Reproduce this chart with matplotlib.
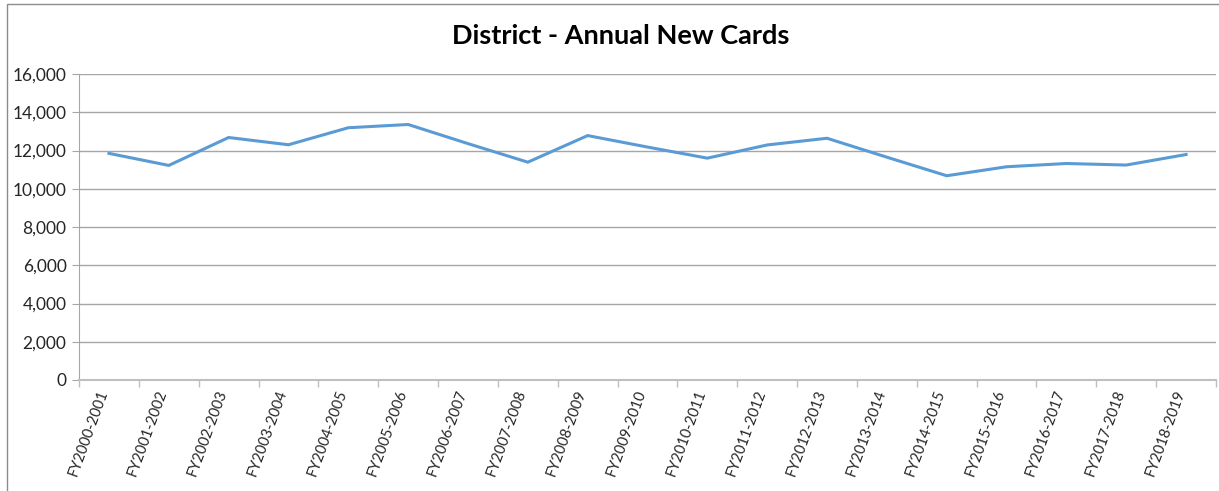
import matplotlib
matplotlib.use("Agg")
import matplotlib.pyplot as plt
import matplotlib.transforms as mtransforms
from matplotlib.ticker import FuncFormatter, FixedLocator
from matplotlib.patches import Rectangle

categories = ["FY2000-2001", "FY2001-2002", "FY2002-2003", "FY2003-2004", "FY2004-2005",
              "FY2005-2006", "FY2006-2007", "FY2007-2008", "FY2008-2009", "FY2009-2010",
              "FY2010-2011", "FY2011-2012", "FY2012-2013", "FY2013-2014", "FY2014-2015",
              "FY2015-2016", "FY2016-2017", "FY2017-2018", "FY2018-2019"]
new_cards = [11850, 11220, 12680, 12300, 13190, 13360, 12360, 11390, 12780, 12180,
             11600, 12290, 12640, 11650, 10680, 11150, 11320, 11240, 11790]
y_ticks = [0, 2000, 4000, 6000, 8000, 10000, 12000, 14000, 16000]
title = "District - Annual New Cards"

plt.rcParams['font.family'] = ['Lato', 'DejaVu Sans']

W, H = 1219, 491
fig = plt.figure(figsize=(W / 100, H / 100), dpi=100)
ax = fig.add_axes([79 / W, 1 - 380 / H, (1216 - 79) / W, (380 - 74) / H])

x = list(range(len(categories)))
ax.plot(x, new_cards, color="#5b9bd5", lw=2.2, solid_joinstyle="miter")

ax.set_xlim(-0.5, len(categories) - 0.5)
ax.set_ylim(0, 16000)
ax.set_yticks(y_ticks)
ax.yaxis.set_major_formatter(FuncFormatter(lambda v, p: f"{int(v):,}"))
ax.grid(axis="y", color="#a6a6a6", lw=1)
ax.set_axisbelow(True)

ax.set_xticks(x)
ax.set_xticklabels(categories, rotation=70, ha="right", rotation_mode="anchor", fontsize=10.5,
                   color="#262626")
ax.tick_params(axis="x", length=0, pad=6)
shift = mtransforms.ScaledTranslation(-12 / 100, 0, fig.dpi_scale_trans)
for lab in ax.get_xticklabels():
    lab.set_transform(lab.get_transform() + shift)
ax.xaxis.set_minor_locator(FixedLocator([i - 0.5 for i in range(len(categories) + 1)]))
ax.tick_params(axis="x", which="minor", length=5, color="#bfbfbf", width=1)
ax.tick_params(axis="y", length=5, color="#a6a6a6", labelsize=12.5, labelcolor="#262626", pad=4)

for s in ["top", "right"]:
    ax.spines[s].set_visible(False)
ax.spines["left"].set_color("#a6a6a6")
ax.spines["bottom"].set_color("#bfbfbf")
ax.spines["bottom"].set_linewidth(1.5)

fig.text(621 / W, 1 - 36 / H, title, ha="center", va="center", fontsize=19.5,
         fontweight="bold", color="black")

fig.patches.append(Rectangle((7 / W, -0.1), 1.2, (1 - 4 / H) + 0.1,
                             transform=fig.transFigure, fill=False,
                             edgecolor="#8c8c8c", lw=1))

fig.savefig("out.png", dpi=100)
